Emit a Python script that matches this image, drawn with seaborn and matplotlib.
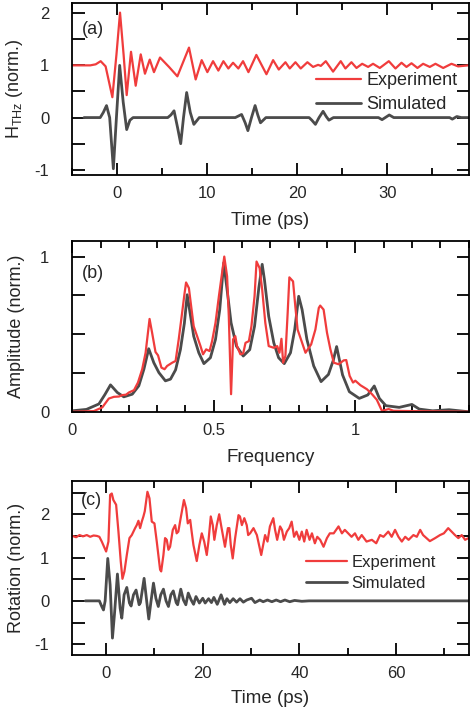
import matplotlib
matplotlib.use("Agg")
import matplotlib.pyplot as plt
from matplotlib.ticker import FixedLocator, MultipleLocator, FuncFormatter
import numpy as np
import seaborn as sns

# panel (a): THz pulse vs time (ps)
thz_exp_t = [-5.0, -3.0, -2.4, -1.85, -1.3, -0.55, -0.1, 0.3, 0.7, 1.04, 1.52, 2.04, 2.6, 3.07,
             3.6, 4.07, 4.74, 5.74, 6.67, 7.96, 8.7, 9.37, 10.0, 10.63, 11.22, 11.78, 12.33,
             12.85, 13.44, 13.96, 14.56, 15.44, 16.56, 17.3, 17.93, 18.67, 19.15, 19.78, 20.37,
             21.11, 21.74, 22.3, 22.6, 23.15, 23.96, 24.81, 25.33, 26.0, 26.56, 27.19, 27.85,
             28.4, 29.15, 30.15, 30.89, 31.56, 32.11, 32.67, 33.33, 33.96, 34.7, 35.33, 36.19,
             37.11, 37.85, 38.96]
thz_exp = [1.0, 1.0, 1.02, 1.08, 0.98, 0.39, 1.2, 2.01, 1.2, 0.43, 1.26, 0.61, 1.21, 0.84,
           1.11, 0.87, 1.15, 0.97, 0.79, 1.34, 0.73, 1.10, 0.87, 1.08, 0.90, 1.08, 0.94,
           1.05, 0.94, 1.08, 0.87, 1.20, 0.83, 1.10, 0.92, 1.06, 0.94, 1.06, 0.94,
           1.06, 0.97, 1.01, 0.99, 1.08, 0.88, 1.08, 0.94, 1.06, 0.95, 1.03, 0.97,
           1.03, 0.95, 1.08, 0.94, 1.05, 0.97, 1.04, 0.95, 1.03, 0.97, 1.03, 0.95,
           1.03, 0.98, 1.0]
thz_sim_t = [-3.7, -1.9, -1.55, -1.2, -0.85, -0.44, -0.1, 0.26, 0.65, 1.04, 1.4, 1.75,
             5.6, 5.95, 6.3, 6.7, 7.04, 7.35, 7.7, 8.1, 8.5, 9.1,
             13.1, 13.8, 14.2, 14.5, 14.9, 15.3, 15.6, 15.9, 16.5,
             21.3, 21.6, 22.0, 22.4, 22.85, 23.2, 23.5, 24.0,
             29.0, 29.4, 30.2, 30.7, 36.9, 37.2, 37.7, 38.2, 39.0]
thz_sim = [0.0, 0.0, 0.1, 0.23, 0.0, -0.98, 0.0, 1.0, 0.3, -0.23, -0.05, 0.0,
           0.0, 0.05, 0.13, -0.2, -0.5, 0.0, 0.48, 0.1, -0.13, 0.0,
           0.0, 0.06, -0.1, -0.25, 0.0, 0.23, 0.05, -0.1, 0.0,
           0.0, -0.05, -0.13, 0.0, 0.12, 0.02, -0.05, 0.0,
           0.0, -0.04, 0.05, 0.0, 0.0, -0.03, 0.02, 0.0, 0.0]

# panel (b): spectral amplitude vs frequency
amp_sim_f = [0.0, 0.05, 0.094, 0.115, 0.135, 0.159, 0.182, 0.212, 0.235, 0.253, 0.27, 0.288,
             0.306, 0.329, 0.347, 0.365, 0.382, 0.396, 0.406, 0.418, 0.429, 0.447, 0.465,
             0.488, 0.506, 0.521, 0.535, 0.547, 0.561, 0.58, 0.604, 0.627, 0.644, 0.659,
             0.671, 0.679, 0.694, 0.712, 0.729, 0.749, 0.771, 0.786, 0.8, 0.812, 0.829,
             0.853, 0.879, 0.905, 0.922, 0.934, 0.955, 0.979, 1.014, 1.044, 1.067, 1.085,
             1.108, 1.155, 1.2, 1.226, 1.273, 1.331, 1.4]
amp_sim = [0.006, 0.015, 0.05, 0.11, 0.173, 0.124, 0.096, 0.113, 0.167, 0.274, 0.406, 0.316,
           0.252, 0.199, 0.21, 0.27, 0.40, 0.57, 0.754, 0.615, 0.487, 0.38, 0.31,
           0.348, 0.466, 0.658, 0.96, 0.786, 0.573, 0.423, 0.359, 0.40, 0.551, 0.797,
           0.95, 0.85, 0.615, 0.444, 0.348, 0.31, 0.38, 0.53, 0.744, 0.658, 0.466,
           0.295, 0.194, 0.24, 0.33, 0.42, 0.237, 0.129, 0.086, 0.108, 0.166, 0.086,
           0.039, 0.028, 0.047, 0.017, 0.006, 0.013, 0.0]
amp_exp_f = [0.0, 0.076, 0.106, 0.129, 0.147, 0.165, 0.176, 0.19, 0.2, 0.218, 0.232, 0.247,
             0.259, 0.273, 0.282, 0.294, 0.303, 0.315, 0.326, 0.335, 0.353, 0.365, 0.376,
             0.388, 0.396, 0.402, 0.412, 0.42, 0.429, 0.441, 0.453, 0.462, 0.473, 0.485,
             0.494, 0.506, 0.518, 0.537, 0.547, 0.553, 0.561, 0.568, 0.576, 0.582, 0.594,
             0.604, 0.612, 0.624, 0.633, 0.644, 0.651, 0.662, 0.671, 0.682, 0.694, 0.712,
             0.724, 0.732, 0.739, 0.745, 0.753, 0.761, 0.767, 0.78, 0.788, 0.796, 0.808,
             0.824, 0.844, 0.859, 0.871, 0.876, 0.888, 0.9, 0.912, 0.924, 0.941, 0.959,
             0.968, 0.98, 0.992, 1.0, 1.018, 1.041, 1.059, 1.076, 1.094, 1.118, 1.135,
             1.2, 1.3, 1.4]
amp_exp = [0.0, 0.004, 0.028, 0.085, 0.096, 0.098, 0.107, 0.11, 0.124, 0.139, 0.188, 0.274,
           0.38, 0.598, 0.509, 0.385, 0.363, 0.284, 0.274, 0.295, 0.316, 0.327, 0.466,
           0.637, 0.754, 0.833, 0.797, 0.68, 0.551, 0.487, 0.423, 0.37, 0.402, 0.391,
           0.455, 0.573, 0.744, 1.0, 0.872, 0.615, 0.113, 0.466, 0.487, 0.423, 0.37,
           0.376, 0.444, 0.455, 0.551, 0.744, 0.968, 0.925, 0.786, 0.573, 0.423, 0.412,
           0.423, 0.38, 0.47, 0.316, 0.359, 0.637, 0.866, 0.84, 0.68, 0.53, 0.466,
           0.38, 0.434, 0.53, 0.669, 0.684, 0.658, 0.509, 0.402, 0.316, 0.306, 0.331,
           0.333, 0.231, 0.188, 0.2, 0.171, 0.145, 0.113, 0.077, 0.006, 0.017, 0.006,
           0.004, 0.002, 0.0]

# panel (c): polarisation rotation vs time (ps)
rot_exp_t = [-7.0, -6.2, -5.5, -4.8, -4.0, -3.3, -2.6, -1.9, -1.4, -0.9, 0.0, 0.48, 0.83,
             1.17, 1.5, 2.07, 2.55, 3.03, 3.38, 3.79, 4.28, 4.83, 5.31, 6.0, 6.34, 6.69,
             7.03, 7.38, 7.72, 8.0, 8.55, 8.97, 9.45, 10.0, 10.48, 11.17, 11.4, 11.86,
             12.2, 12.55, 12.9, 13.24, 13.8, 14.28, 14.6, 14.95, 15.3, 16.1, 16.55, 16.9,
             17.4, 17.7, 18.07, 18.76, 19.3, 19.8, 20.3, 20.83, 21.17, 21.66, 22.07, 22.4,
             22.9, 23.4, 23.9, 24.6, 25.2, 25.5, 25.8, 26.2, 26.7, 27.4, 27.7, 28.1, 28.6,
             29.1, 29.4, 29.8, 30.5, 31.2, 32.1, 32.9, 33.4, 33.9, 34.6, 34.97, 35.4,
             36.0, 36.4, 36.8, 37.4, 37.9, 38.4, 38.9, 39.4, 40.0, 40.5, 41.0, 41.5, 42.1,
             42.6, 43.2, 43.7, 44.3, 45.0, 45.7, 46.3, 47.1, 48.1, 48.8, 49.4, 50.1, 50.8,
             51.5, 52.2, 52.9, 53.9, 55.0, 55.9, 56.7, 57.4, 58.4, 59.1, 59.8, 60.5, 61.2,
             61.9, 62.6, 63.6, 64.3, 65.0, 65.6, 66.3, 67.0, 68.1, 69.1, 69.9, 70.8, 71.5,
             72.2, 72.9, 73.6, 74.3, 75.0]
rot_exp = [1.50, 1.47, 1.52, 1.49, 1.52, 1.48, 1.51, 1.50, 1.48, 1.37, 1.14, 1.37, 2.45,
           2.48, 2.33, 2.22, 1.6, 0.91, 0.51, 0.68, 1.06, 1.45, 1.52, 1.68, 1.75, 1.85,
           1.68, 1.83, 1.95, 2.07, 2.52, 2.37, 1.83, 1.79, 1.37, 0.72, 0.68, 1.06,
           1.45, 1.41, 1.18, 1.25, 1.64, 1.75, 1.56, 1.6, 1.83, 2.33, 2.14, 1.79,
           1.87, 1.6, 1.29, 0.92, 1.29, 1.56, 1.37, 1.06, 1.37, 1.95, 1.75, 1.41,
           1.75, 2.0, 1.68, 1.25, 1.68, 1.68, 1.29, 0.98, 1.45, 1.98, 1.95, 1.75, 1.91,
           1.75, 1.52, 1.56, 1.68, 1.52, 1.06, 1.52, 1.37, 1.72, 1.91, 1.64, 1.41,
           1.72, 1.64, 1.41, 1.6, 1.68, 1.83, 1.48, 1.6, 1.41, 1.6, 1.37, 1.64, 1.41,
           1.56, 1.33, 1.48, 1.41, 1.25, 1.45, 1.56, 1.56, 1.72, 1.56, 1.64, 1.56, 1.48,
           1.56, 1.41, 1.52, 1.37, 1.41, 1.33, 1.52, 1.48, 1.6, 1.48, 1.64, 1.48, 1.37,
           1.48, 1.41, 1.52, 1.48, 1.64, 1.52, 1.45, 1.38, 1.45, 1.52, 1.56, 1.68, 1.6,
           1.52, 1.45, 1.52, 1.41, 1.45]
rot_sim_t = [-4.3, -1.4, -0.9, -0.55, -0.2, 0.34, 0.83, 1.31, 1.72, 2.34, 2.9, 3.24, 3.72,
             4.28, 4.83, 5.17, 5.66, 6.2, 6.83, 7.1, 7.86, 8.41, 8.83, 9.3, 9.8, 10.3,
             10.8, 11.3, 11.86, 12.4, 12.9, 13.4, 13.9, 14.5, 14.8, 15.45, 16.0, 16.5,
             17.0, 17.6, 18.1, 18.6, 19.3, 20.0, 20.5, 21.2, 21.8, 22.3, 23.0, 23.8,
             24.5, 25.0, 25.6, 26.3, 27.0, 27.7, 28.4, 29.1, 30.1, 30.8, 31.8, 32.5,
             33.4, 34.3, 35.2, 36.1, 37.0, 38.0, 39.0, 40.5, 42.0, 75.0]
rot_sim = [0.0, 0.0, -0.13, -0.21, 0.0, 0.98, 0.37, -0.86, -0.32, 0.62, -0.17, -0.4, 0.14,
           0.31, -0.05, -0.12, 0.14, 0.25, -0.09, -0.04, 0.52, -0.02, -0.42, 0.0, 0.41, 0.06,
           -0.13, 0.14, 0.27, 0.0, -0.13, 0.14, 0.23, -0.04, -0.09, 0.27, 0.02, -0.09,
           0.18, 0.02, -0.08, 0.1, -0.05, 0.06, -0.05, 0.05, -0.04, 0.08, -0.08, 0.14,
           -0.08, 0.05, -0.04, 0.05, -0.03, 0.05, -0.03, 0.02, 0.06, -0.04, 0.02, -0.02,
           0.02, -0.02, 0.02, -0.02, 0.02, -0.02, 0.01, -0.01, 0.0, 0.0]

RED = "#f03c3c"
GRAY = "#4b4b4b"

sns.set_theme(style="ticks")
plt.rcParams["font.family"] = ["Liberation Sans", "DejaVu Sans"]
plt.rcParams["mathtext.fontset"] = "custom"
plt.rcParams["mathtext.rm"] = "Liberation Sans"
plt.rcParams["axes.unicode_minus"] = False


def int_only(v, _):
    return f"{v:.0f}" if abs(v - round(v)) < 1e-6 else ""


def style(ax, xlim, ylim, xmaj, xmin, yticks):
    ax.set_xlim(*xlim)
    ax.set_ylim(*ylim)
    ax.xaxis.set_major_locator(MultipleLocator(xmaj))
    ax.xaxis.set_minor_locator(MultipleLocator(xmin))
    ax.xaxis.set_major_formatter(FuncFormatter(lambda v, _: f"{v:g}"))
    ax.yaxis.set_major_locator(FixedLocator(yticks))
    ax.yaxis.set_major_formatter(FuncFormatter(int_only))
    ax.tick_params(which="both", direction="in", top=True, right=True,
                   width=1.3, color="black", labelsize=12)
    ax.tick_params(axis="x", which="major", length=8.5, pad=8)
    ax.tick_params(axis="x", which="minor", length=5)
    ax.tick_params(axis="y", which="major", length=9, pad=16.5)
    for sp in ax.spines.values():
        sp.set_visible(True)
        sp.set_linewidth(1.3)
        sp.set_color("black")
    ax.yaxis.set_label_coords(-0.119, 0.5)


fig = plt.figure(figsize=(4.71, 7.10), dpi=100)
ax_a = fig.add_axes([0.1535, 0.7535, 0.8412, 0.2427])
ax_b = fig.add_axes([0.1535, 0.4201, 0.8412, 0.2404])
ax_c = fig.add_axes([0.1535, 0.0775, 0.8412, 0.2451])

# (a)
sns.lineplot(x=thz_sim_t, y=thz_sim, ax=ax_a, color=GRAY, lw=2.0, estimator=None, sort=False)
sns.lineplot(x=thz_exp_t, y=thz_exp, ax=ax_a, color=RED, lw=1.6, estimator=None, sort=False)
style(ax_a, (-5, 39), (-1.1, 2.2), 10, 5, np.arange(-1, 2.01, 0.5))
ax_a.set_xlabel("Time (ps)", fontsize=13.5, labelpad=8)
ax_a.set_ylabel(r"H$_{\mathrm{THz}}$ (norm.)", fontsize=13)
ax_a.text(0.024, 0.847, "(a)", transform=ax_a.transAxes, fontsize=13, va="center")
h_exp, = ax_a.plot([], [], color=RED, lw=1.6)
h_sim, = ax_a.plot([], [], color=GRAY, lw=2.0)
ax_a.legend([h_exp, h_sim], ["Experiment", "Simulated"], loc="center left",
            bbox_to_anchor=(0.614, 0.479), frameon=False, fontsize=13, borderpad=0,
            borderaxespad=0, handlelength=2.5, handletextpad=0.32, labelspacing=0.4)

# (b)
sns.lineplot(x=amp_sim_f, y=amp_sim, ax=ax_b, color=GRAY, lw=2.0, estimator=None, sort=False)
sns.lineplot(x=amp_exp_f, y=amp_exp, ax=ax_b, color=RED, lw=1.6, estimator=None, sort=False)
style(ax_b, (0, 1.4), (0, 1.1), 0.5, 0.1, np.arange(0, 1.01, 0.25))
ax_b.set_xlabel("Frequency", fontsize=13.5, labelpad=8)
ax_b.set_ylabel("Amplitude (norm.)", fontsize=13)
ax_b.text(0.024, 0.807, "(b)", transform=ax_b.transAxes, fontsize=13, va="center")

# (c)
sns.lineplot(x=rot_sim_t, y=rot_sim, ax=ax_c, color=GRAY, lw=2.0, estimator=None, sort=False)
sns.lineplot(x=rot_exp_t, y=rot_exp, ax=ax_c, color=RED, lw=1.6, estimator=None, sort=False)
style(ax_c, (-7, 75), (-1.25, 2.77), 20, 10, np.arange(-1, 2.51, 0.5))
ax_c.set_xlabel("Time (ps)", fontsize=13.5, labelpad=6.5)
ax_c.set_ylabel("Rotation (norm.)", fontsize=13)
ax_c.text(0.022, 0.887, "(c)", transform=ax_c.transAxes, fontsize=13, va="center")
h_exp, = ax_c.plot([], [], color=RED, lw=1.6)
h_sim, = ax_c.plot([], [], color=GRAY, lw=2.0)
ax_c.legend([h_exp, h_sim], ["Experiment", "Simulated"], loc="center left",
            bbox_to_anchor=(0.59, 0.472), frameon=False, fontsize=12, borderpad=0,
            borderaxespad=0, handlelength=2.46, handletextpad=0.27, labelspacing=0.35)

fig.savefig("out.png", dpi=100)
